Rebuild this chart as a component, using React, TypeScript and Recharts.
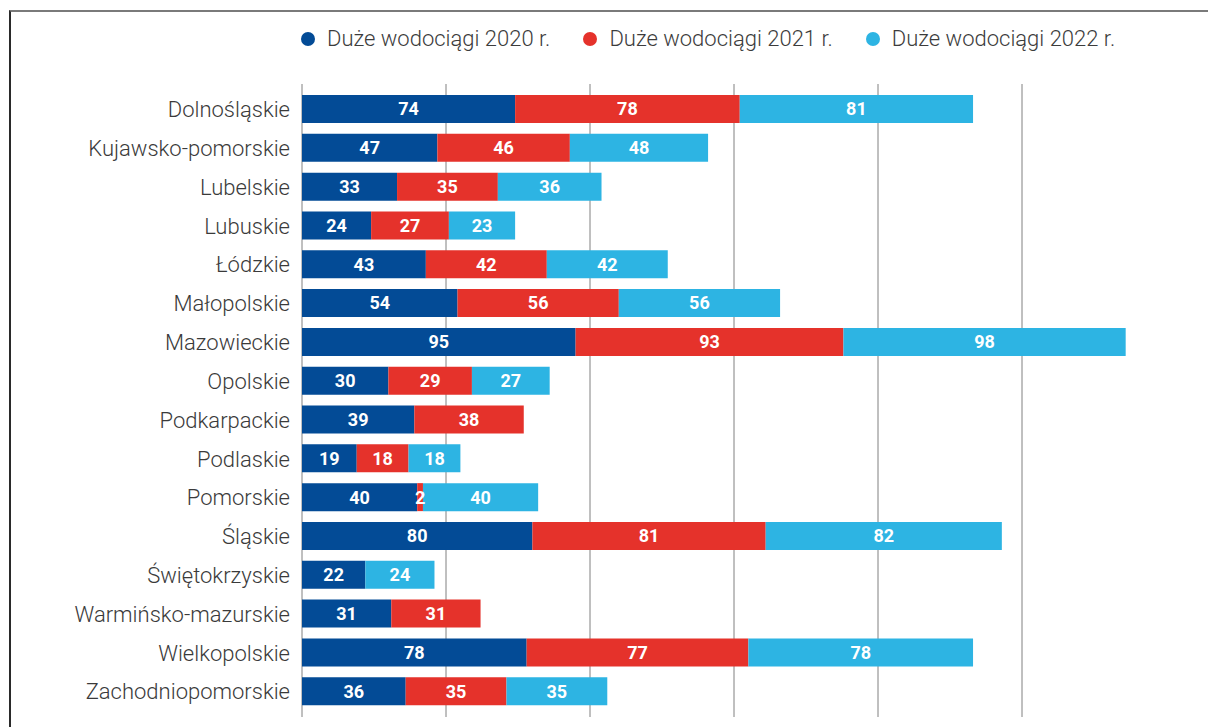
import {
  Bar,
  BarChart,
  CartesianGrid,
  LabelList,
  Legend,
  XAxis,
  YAxis,
} from "recharts";

const regions = [
  "Dolnośląskie",
  "Kujawsko-pomorskie",
  "Lubelskie",
  "Lubuskie",
  "Łódzkie",
  "Małopolskie",
  "Mazowieckie",
  "Opolskie",
  "Podkarpackie",
  "Podlaskie",
  "Pomorskie",
  "Śląskie",
  "Świętokrzyskie",
  "Warmińsko-mazurskie",
  "Wielkopolskie",
  "Zachodniopomorskie",
];

const y2020 = [74, 47, 33, 24, 43, 54, 95, 30, 39, 19, 40, 80, 22, 31, 78, 36];
const y2021 = [78, 46, 35, 27, 42, 56, 93, 29, 38, 18, 2, 81, null, 31, 77, 35];
const y2022 = [81, 48, 36, 23, 42, 56, 98, 27, null, 18, 40, 82, 24, null, 78, 35];

const xTicks = [0, 50, 100, 150, 200, 250];

const series = [
  { key: "y2020", name: "Duże wodociągi 2020 r.", color: "#034b96" },
  { key: "y2021", name: "Duże wodociągi 2021 r.", color: "#e5322b" },
  { key: "y2022", name: "Duże wodociągi 2022 r.", color: "#2db4e3" },
];

const data = regions.map((region, i) => ({
  region,
  y2020: y2020[i],
  y2021: y2021[i],
  y2022: y2022[i],
}));

const font = "Roboto, 'Open Sans', sans-serif";

function LegendContent() {
  return (
    <div style={{ display: "flex", alignItems: "center", fontFamily: font }}>
      {series.map((s) => (
        <div
          key={s.key}
          style={{ display: "flex", alignItems: "center", marginRight: 33 }}
        >
          <span
            style={{
              width: 14,
              height: 14,
              borderRadius: "50%",
              background: s.color,
              marginRight: 12,
              display: "inline-block",
            }}
          />
          <span style={{ fontSize: 22, fontWeight: 300, color: "#3c3c3c" }}>
            {s.name}
          </span>
        </div>
      ))}
    </div>
  );
}

// x axis labels are not shown in the figure, only its grid
const HiddenTick = () => <g />;

export default function App() {
  return (
    <div
      style={{
        position: "absolute",
        left: 0,
        top: 0,
        width: 1208,
        height: 727,
        background: "#fff",
        overflow: "hidden",
      }}
    >
      {/* frame of the original figure */}
      <div
        style={{
          position: "absolute",
          left: 9,
          top: 10,
          width: 1300,
          height: 800,
          borderTop: "2px solid #7a7a7a",
          borderLeft: "2px solid #2a2a2a",
        }}
      />
      <div style={{ position: "absolute", left: 0, top: 0 }}>
        <BarChart
          width={1208}
          height={727}
          data={data}
          layout="vertical"
          margin={{ top: 84, right: 42, bottom: 10, left: 0 }}
          barSize={28}
        >
          <CartesianGrid
            horizontal={false}
            stroke="#808080"
            strokeWidth={1}
            syncWithTicks
          />
          <XAxis
            type="number"
            domain={[0, 300]}
            ticks={xTicks}
            tick={<HiddenTick />}
            tickLine={false}
            axisLine={false}
            height={0}
          />
          <YAxis
            type="category"
            dataKey="region"
            width={302}
            tickLine={false}
            axisLine={false}
            tickSize={0}
            tickMargin={12}
            padding={{ top: 6, bottom: 6 }}
            interval={0}
            tick={{
              fontFamily: font,
              fontSize: 22,
              fontWeight: 300,
              fill: "#3a3a3a",
            }}
          />
          <Legend
            layout="horizontal"
            verticalAlign="middle"
            align="center"
            content={<LegendContent />}
            wrapperStyle={{ position: "absolute", left: 301, top: 26, width: "auto" }}
          />
          {series.map((s) => (
            <Bar
              key={s.key}
              dataKey={s.key}
              name={s.name}
              stackId="a"
              fill={s.color}
              isAnimationActive={false}
            >
              <LabelList
                dataKey={s.key}
                position="center"
                fill="#ffffff"
                style={{
                  fontFamily: font,
                  fontSize: 18,
                  fontWeight: 700,
                }}
              />
            </Bar>
          ))}
        </BarChart>
      </div>
    </div>
  );
}
